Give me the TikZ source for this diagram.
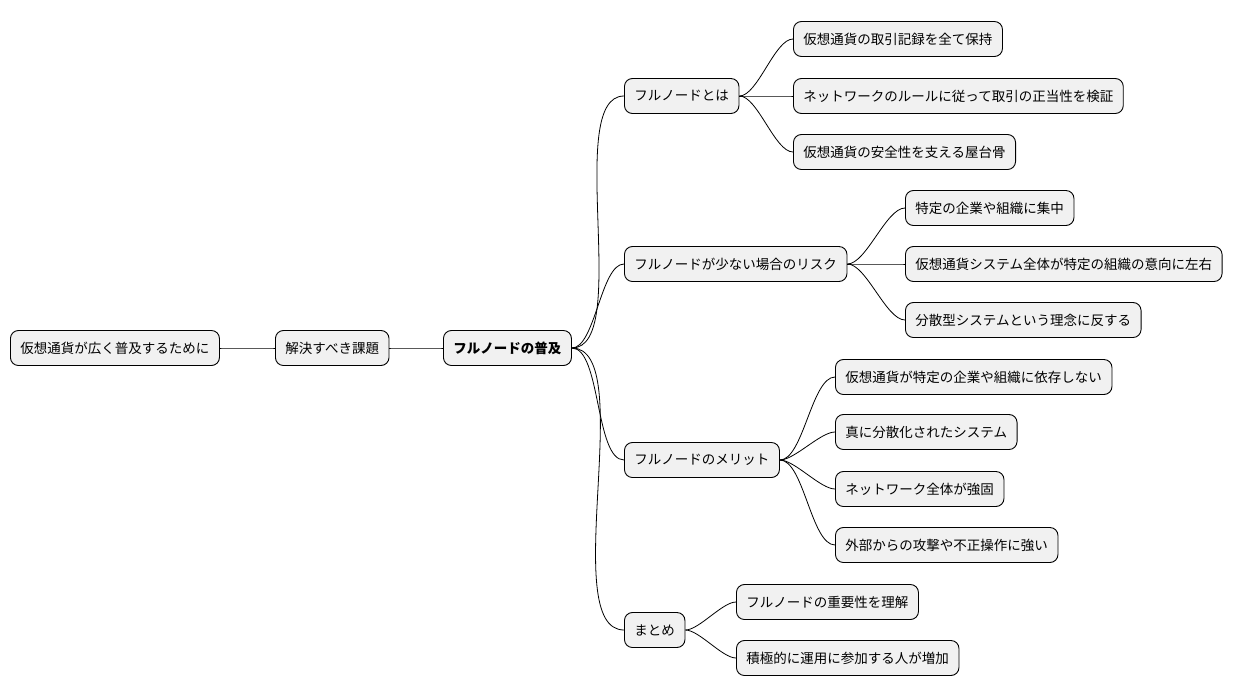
\documentclass[tikz,border=0pt]{standalone}
\usepackage{fontspec}
\setmainfont{Noto Sans CJK JP}
\usetikzlibrary{positioning}
\definecolor{boxgray}{HTML}{F1F1F1}
\tikzset{
  topic/.style={draw, fill=boxgray, rounded corners=8pt, line width=0.9pt,
    minimum height=35pt, inner xsep=10pt, font=\fontsize{13.5}{16}\selectfont, anchor=west},
  branch/.style={line width=0.8pt, out=0, in=180, looseness=0.6}
}
\begin{document}
\begin{tikzpicture}[x=1pt, y=-1pt]
  \useasboundingbox (0,0) rectangle (1244,696);
  % main chain
  \node[topic] (goal) at (10,348) {仮想通貨が広く普及するために};
  \node[topic] (issue) at (275,348) {解決すべき課題};
  \node[topic, font=\fontsize{13.5}{16}\selectfont\bfseries] (spread) at (443,348) {フルノードの普及};
  % second level
  \node[topic] (what) at (624,96) {フルノードとは};
  \node[topic] (risk) at (624,264) {フルノードが少ない場合のリスク};
  \node[topic] (merit) at (624,460) {フルノードのメリット};
  \node[topic] (summ) at (624,630) {まとめ};
  % leaves
  \node[topic] (w1) at (793,39) {仮想通貨の取引記録を全て保持};
  \node[topic] (w2) at (793,96) {ネットワークのルールに従って取引の正当性を検証};
  \node[topic] (w3) at (793,152) {仮想通貨の安全性を支える屋台骨};
  \node[topic] (r1) at (905,208) {特定の企業や組織に集中};
  \node[topic] (r2) at (905,264) {仮想通貨システム全体が特定の組織の意向に左右};
  \node[topic] (r3) at (905,320) {分散型システムという理念に反する};
  \node[topic] (m1) at (835,377) {仮想通貨が特定の企業や組織に依存しない};
  \node[topic] (m2) at (835,432) {真に分散化されたシステム};
  \node[topic] (m3) at (835,489) {ネットワーク全体が強固};
  \node[topic] (m4) at (835,545) {外部からの攻撃や不正操作に強い};
  \node[topic] (s1) at (736,602) {フルノードの重要性を理解};
  \node[topic] (s2) at (736,658) {積極的に運用に参加する人が増加};
  % connectors
  \draw[branch] (goal.east) to (issue.west);
  \draw[branch] (issue.east) to (spread.west);
  \foreach \c in {what,risk,merit,summ}
    \draw[branch] (spread.east) to (\c.west);
  \foreach \c in {w1,w2,w3}
    \draw[branch] (what.east) to (\c.west);
  \foreach \c in {r1,r2,r3}
    \draw[branch] (risk.east) to (\c.west);
  \foreach \c in {m1,m2,m3,m4}
    \draw[branch] (merit.east) to (\c.west);
  \foreach \c in {s1,s2}
    \draw[branch] (summ.east) to (\c.west);
\end{tikzpicture}
\end{document}
